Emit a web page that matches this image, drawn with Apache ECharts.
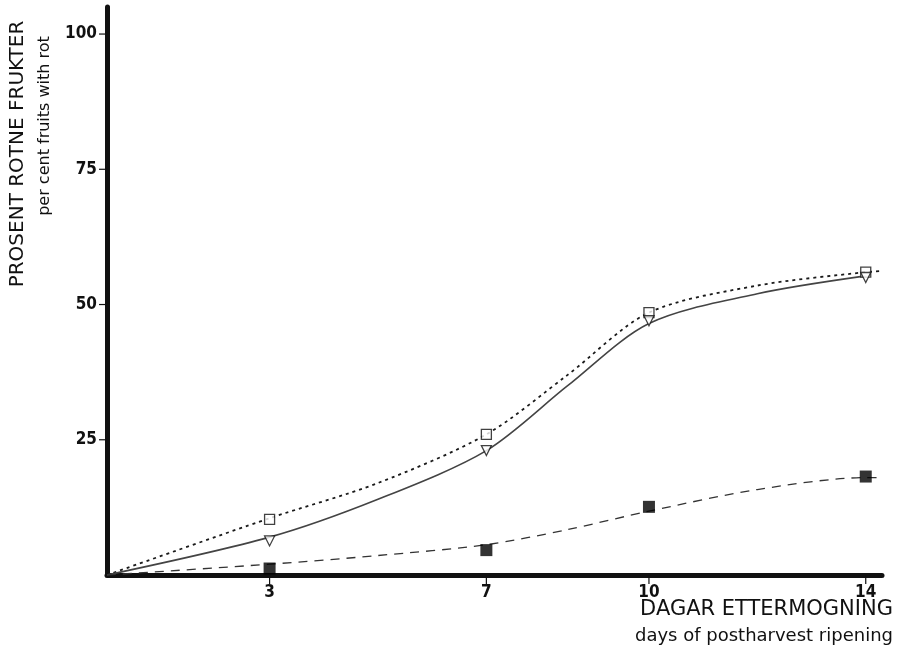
<!DOCTYPE html>
<html>
<head>
<meta charset="utf-8">
<script src="https://cdn.jsdelivr.net/npm/echarts@6/dist/echarts.min.js"></script>
<style>
  html, body { margin: 0; padding: 0; background: #fff; }
  #chart { width: 899px; height: 655px; }
</style>
</head>
<body>
<div id="chart"></div>
<script>
// Measured points: days of postharvest ripening vs. per cent rotten fruits
var days = [3, 7, 10, 14];
var openSquare = [10.3, 26, 48.5, 56];
var triangle = [6.3, 23, 47, 55];
var filledSquare = [1.2, 4.6, 12.6, 18.2];

// Hand-fitted curves drawn through the points
var dottedCurveX = [0, 3, 5, 7, 8.5, 10, 12, 14, 14.3];
var dottedCurveY = [0, 10.5, 17, 26, 37, 48.5, 53.5, 56, 56.2];
var solidCurveX = [0, 3, 5, 7, 8.5, 10, 12, 14];
var solidCurveY = [0, 7, 14, 23, 35, 46.5, 52, 55.3];
var dashedCurveX = [0, 3, 5, 7, 8.5, 10, 12, 14, 14.25];
var dashedCurveY = [0, 2, 3.6, 5.6, 8.4, 11.8, 15.8, 18, 18];

var xTicks = [3, 7, 10, 14];
var yTicks = [25, 50, 75, 100];

function pairs(xs, ys) {
  return xs.map(function (x, i) { return [x, ys[i]]; });
}

var tickFont = "'Liberation Sans Narrow', 'DejaVu Sans Condensed', sans-serif";
var titleFont = "'DejaVu Sans', 'Liberation Sans', sans-serif";

var chart = echarts.init(document.getElementById('chart'));
chart.setOption({
  animation: false,
  backgroundColor: '#fff',
  grid: { left: 107, right: 17, top: 7, bottom: 80 },
  xAxis: {
    type: 'value', min: 0, max: 14.3,
    splitLine: { show: false },
    axisLine: { show: true, onZero: false, lineStyle: { color: '#111', width: 5 } },
    axisTick: { show: false },
    axisLabel: { show: false }
  },
  yAxis: {
    type: 'value', min: 0, max: 105,
    splitLine: { show: false },
    axisLine: { show: true, lineStyle: { color: '#111', width: 5 } },
    axisTick: { show: false },
    axisLabel: { show: false }
  },
  series: [
    {
      name: 'dotted', type: 'line', smooth: 0.3, symbol: 'none',
      data: pairs(dottedCurveX, dottedCurveY),
      lineStyle: { color: '#1a1a1a', width: 1.8, type: [3, 4] }, z: 2
    },
    {
      name: 'solid', type: 'line', smooth: 0.3, symbol: 'none',
      data: pairs(solidCurveX, solidCurveY),
      lineStyle: { color: '#444', width: 1.6, type: 'solid' }, z: 2
    },
    {
      name: 'dashed', type: 'line', smooth: 0.3, symbol: 'none',
      data: pairs(dashedCurveX, dashedCurveY),
      lineStyle: { color: '#333', width: 1.3, type: [9, 7] }, z: 2
    },
    {
      name: 'open square', type: 'scatter', symbol: 'rect', symbolSize: 10,
      data: pairs(days, openSquare),
      itemStyle: { color: '#fff', borderColor: '#111', borderWidth: 1.3 }, z: 4
    },
    {
      name: 'triangle', type: 'scatter', symbol: 'triangle', symbolRotate: 180, symbolSize: 10,
      data: pairs(days, triangle),
      itemStyle: { color: '#fff', borderColor: '#111', borderWidth: 1.3 }, z: 4
    },
    {
      name: 'filled square', type: 'scatter', symbol: 'rect', symbolSize: 12,
      data: pairs(days, filledSquare),
      itemStyle: { color: '#000' }, z: 4
    },
    // tick marks and labels on both axes
    {
      name: 'yTicks', type: 'custom', coordinateSystem: 'cartesian2d',
      data: yTicks.map(function (v) { return [0, v]; }),
      renderItem: function (params, api) {
        var p = api.coord([0, api.value(1)]);
        return {
          type: 'group', children: [
            { type: 'line', shape: { x1: p[0] - 8, y1: p[1], x2: p[0], y2: p[1] }, style: { stroke: '#111', lineWidth: 1.2 } },
            { type: 'text', x: p[0] - 10, y: p[1], style: { text: String(api.value(1)), align: 'right', verticalAlign: 'middle', font: 'bold 17px ' + tickFont, fill: '#111' } }
          ]
        };
      }, z: 5
    },
    {
      name: 'xTicks', type: 'custom', coordinateSystem: 'cartesian2d',
      data: xTicks.map(function (v) { return [v, 0]; }),
      renderItem: function (params, api) {
        var p = api.coord([api.value(0), 0]);
        return {
          type: 'group', children: [
            { type: 'line', shape: { x1: p[0], y1: p[1], x2: p[0], y2: p[1] + 9 }, style: { stroke: '#111', lineWidth: 1.2 } },
            { type: 'text', x: p[0], y: p[1] + 9, style: { text: String(api.value(0)), align: 'center', verticalAlign: 'top', font: 'bold 17px ' + tickFont, fill: '#111' } }
          ]
        };
      }, z: 5
    }
  ],
  graphic: [
    { type: 'text', x: 18, y: 154, rotation: Math.PI / 2, style: { text: 'PROSENT ROTNE FRUKTER', align: 'center', verticalAlign: 'middle', font: '20px ' + titleFont, fill: '#111' } },
    { type: 'text', x: 45, y: 126, rotation: Math.PI / 2, style: { text: 'per cent fruits with rot', align: 'center', verticalAlign: 'middle', font: '16px ' + titleFont, fill: '#111' } },
    { type: 'text', right: 6, top: 599, style: { text: 'DAGAR ETTERMOGNING', font: '21px ' + titleFont, fill: '#111' } },
    { type: 'text', right: 6, top: 627, style: { text: 'days of postharvest ripening', font: '18px ' + titleFont, fill: '#111' } }
  ]
});
</script>
</body>
</html>
